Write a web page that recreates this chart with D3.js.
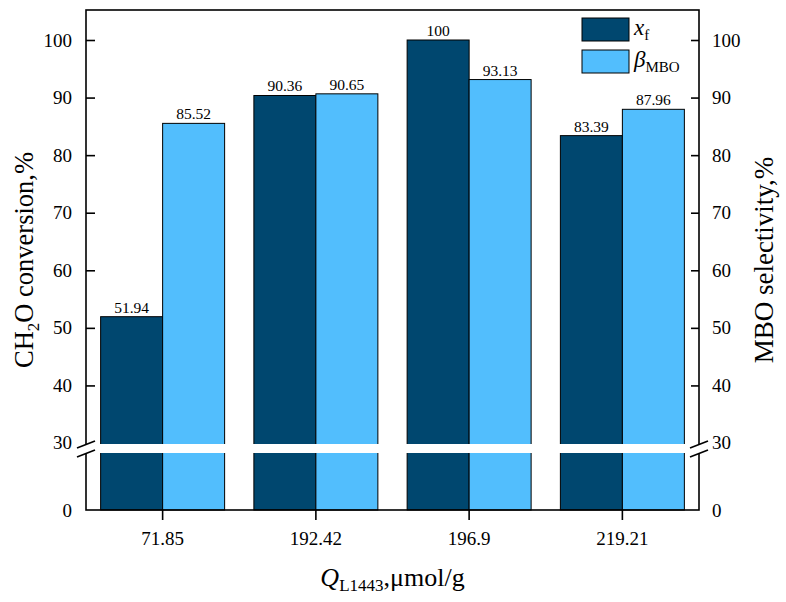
<!DOCTYPE html>
<html>
<head>
<meta charset="utf-8">
<script src="https://cdn.jsdelivr.net/npm/d3@7"></script>
<style>
  body { margin: 0; background: #fff; }
  svg { display: block; font-family: "Liberation Serif", "Times New Roman", serif; }
</style>
</head>
<body>
<svg id="chart" width="786" height="602"></svg>
<script>
// ---- data ----
const categories = ["71.85", "192.42", "196.9", "219.21"];
const conversion = [51.94, 90.36, 100, 83.39];   // x_f
const selectivity = [85.52, 90.65, 93.13, 87.96]; // beta_MBO
const upperTicks = [40, 50, 60, 70, 80, 90, 100];
const breakValue = 30;
const colors = { conv: "#00476F", sel: "#52BEFD" };

const svg = d3.select("#chart");
const L = 86, R = 699, T = 10, B = 510;
const gapTop = 443, gapBot = 453;

const x = d3.scaleBand().domain(categories).range([L, R]).paddingInner(0).paddingOuter(0);
const sub = d3.scaleBand().domain(["conv", "sel"]).range([0, x.bandwidth()]).paddingOuter(0.236).paddingInner(0);
const yU = d3.scaleLinear().domain([30, 100]).range([gapTop, 40]);
const yL = d3.scaleLinear().domain([0, 30]).range([B, gapBot]);

const series = [
  { key: "conv", values: conversion },
  { key: "sel", values: selectivity }
];

// bars
series.forEach(s => {
  svg.append("g").selectAll("rect").data(s.values).join("rect")
    .attr("x", (d, i) => x(categories[i]) + sub(s.key))
    .attr("width", sub.bandwidth())
    .attr("y", d => yU(d))
    .attr("height", d => B - yU(d))
    .attr("fill", colors[s.key])
    .attr("stroke", "#000")
    .attr("stroke-width", 1);
  svg.append("g").selectAll("text").data(s.values).join("text")
    .attr("x", (d, i) => x(categories[i]) + sub(s.key) + sub.bandwidth() / 2)
    .attr("y", d => yU(d) - 4)
    .attr("text-anchor", "middle")
    .attr("font-size", 15.5)
    .attr("fill", "#000")
    .text(d => d);
});

// frame
svg.append("rect").attr("x", L).attr("y", T).attr("width", R - L).attr("height", B - T)
  .attr("fill", "none").attr("stroke", "#000").attr("stroke-width", 1.6);

// left/right axis ticks (inward)
const axL = d3.axisLeft(yU).tickValues(upperTicks).tickSize(-9).tickPadding(14).tickFormat(d3.format("d"));
const gL = svg.append("g").attr("transform", `translate(${L},0)`).call(axL);
const axR = d3.axisRight(yU).tickValues(upperTicks).tickSize(-8).tickPadding(13).tickFormat(d3.format("d"));
const gR = svg.append("g").attr("transform", `translate(${R},0)`).call(axR);
[gL, gR].forEach(g => {
  g.select(".domain").remove();
  g.selectAll(".tick line").attr("stroke", "#000").attr("stroke-width", 1.6);
  g.selectAll(".tick text").attr("font-size", 19).attr("font-family", "Liberation Serif").attr("fill", "#000");
});

// lower-segment labels (0)
const axL0 = d3.axisLeft(yL).tickValues([0]).tickSize(0).tickPadding(14).tickFormat(d3.format("d"));
const axR0 = d3.axisRight(yL).tickValues([0]).tickSize(0).tickPadding(13).tickFormat(d3.format("d"));
[[axL0, L], [axR0, R]].forEach(([ax, px]) => {
  const g = svg.append("g").attr("transform", `translate(${px},0)`).call(ax);
  g.select(".domain").remove();
  g.selectAll(".tick text").attr("font-size", 19).attr("font-family", "Liberation Serif").attr("fill", "#000");
});

// break band
svg.append("rect").attr("x", L - 4).attr("y", gapTop + 1).attr("width", R - L + 8).attr("height", gapBot - gapTop - 1)
  .attr("fill", "#fff");
[L, R].forEach(px => {
  [gapTop + 1, gapBot].forEach(yy => {
    svg.append("line").attr("x1", px - 9).attr("y1", yy + 4).attr("x2", px + 9).attr("y2", yy - 3)
      .attr("stroke", "#000").attr("stroke-width", 1.6);
  });
});
svg.append("text").attr("x", L - 14).attr("y", (gapTop + gapBot) / 2 - 5).attr("dy", "0.32em")
  .attr("text-anchor", "end").attr("font-size", 19).text(breakValue);
svg.append("text").attr("x", R + 13).attr("y", (gapTop + gapBot) / 2 - 5).attr("dy", "0.32em")
  .attr("text-anchor", "start").attr("font-size", 19).text(breakValue);

// bottom axis (outward ticks)
const axB = d3.axisBottom(x).tickSize(10).tickPadding(12);
const gB = svg.append("g").attr("transform", `translate(0,${B})`).call(axB);
gB.select(".domain").remove();
gB.selectAll(".tick line").attr("stroke", "#000").attr("stroke-width", 1.6);
gB.selectAll(".tick text").attr("font-size", 19).attr("font-family", "Liberation Serif").attr("fill", "#000");

// axis titles
const tl = svg.append("text").attr("transform", "translate(33,260) rotate(-90)")
  .attr("text-anchor", "middle").attr("font-size", 26.5);
tl.append("tspan").text("CH");
tl.append("tspan").attr("font-size", 17).attr("dy", 6).text("2");
tl.append("tspan").attr("dy", -6).text("O conversion,%");

svg.append("text").attr("transform", "translate(773,260) rotate(-90)")
  .attr("text-anchor", "middle").attr("font-size", 27).text("MBO selectivity,%");

const tb = svg.append("text").attr("x", (L + R) / 2).attr("y", 586)
  .attr("text-anchor", "middle").attr("font-size", 26);
tb.append("tspan").attr("font-style", "italic").text("Q");
tb.append("tspan").attr("font-size", 17).attr("dy", 5).text("L1443");
tb.append("tspan").attr("dy", -5).text(",μmol/g");

// legend
const leg = [
  { key: "conv", main: "x", sub: "f", y: 18 },
  { key: "sel", main: "β", sub: "MBO", y: 50 }
];
leg.forEach(d => {
  svg.append("rect").attr("x", 582).attr("y", d.y).attr("width", 47).attr("height", 23)
    .attr("fill", colors[d.key]).attr("stroke", "#000").attr("stroke-width", 1);
  const t = svg.append("text").attr("x", 634).attr("y", d.y + 17).attr("font-size", 23);
  t.append("tspan").attr("font-style", "italic").text(d.main);
  t.append("tspan").attr("font-size", 15).attr("dy", 5).text(d.sub);
});
</script>
</body>
</html>
